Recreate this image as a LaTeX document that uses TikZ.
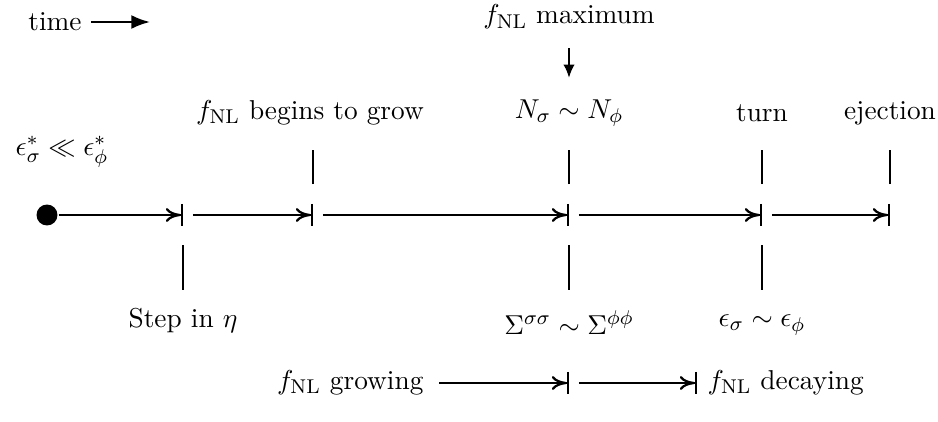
\documentclass[tikz,border=0pt]{standalone}
\usepackage{amsmath,amssymb}
\usetikzlibrary{arrows.meta,positioning}
\tikzset{
  stage/.style={-{To[length=6pt,width=5.6pt]Bar[width=9pt]}},
  dot/.style={circle,fill,inner sep=0pt,minimum size=8.4pt},
  lbl/.style={inner sep=1pt,font=\fontsize{10.95}{13.6}\selectfont},
}
\newcommand{\fNL}{f_{\mathrm{NL}}}

\begin{document}
\begin{tikzpicture}[x=0.01408cm,y=-0.01408cm,line width=0.9pt]
  \useasboundingbox (0,0) rectangle (938,421);

  % time direction
  \node[lbl] (time) at (55,22) {time};
  \coordinate (timeend) at (150,22);
  \draw[-{Latex[length=7.5pt,width=5.6pt]}] (time.east) ++(6,0) coordinate (timestart) -- (timeend);

  % ticks on the line
  \node[dot] (start) at (47,215) {};
  \coordinate (t1) at (183,215);
  \coordinate (t2) at (313,215);
  \coordinate (t3) at (569,215);
  \coordinate (t4) at (762,215);
  \coordinate (t5) at (890,215);

  \draw[stage] (start) -- (t1);
  \draw[stage,shorten <=4pt] (t1) -- (t2);
  \draw[stage,shorten <=4pt] (t2) -- (t3);
  \draw[stage,shorten <=4pt] (t3) -- (t4);
  \draw[stage,shorten <=4pt] (t4) -- (t5);

  % upper marks
  \foreach \t in {t2,t3,t4,t5}
    \draw (\t) ++(0,-31) -- ++(0,-34);
  % lower marks
  \foreach \t in {t1,t3,t4}
    \draw (\t) ++(0,30) -- ++(0,45);

  % labels above
  \node[lbl] (init) at (62,152) {$\epsilon_\sigma^* \ll \epsilon_\phi^*$};
  \node[lbl] (grow) at (310,113) {$\fNL$ begins to grow};
  \node[lbl] (equalN) at (569,113) {$N_\sigma \sim N_\phi$};
  \node[lbl] (turn) at (762,113) {turn};
  \node[lbl] (eject) at (890,113) {ejection};
  \node[lbl] (max) at (569,17) {$\fNL$ maximum};
  \coordinate (maxtip) at (569,78);
  \draw[-{Latex[length=5.4pt,width=4.6pt]}] (max) ++(0,31) -- (maxtip);

  % labels below
  \node[lbl] (step) at (183,321) {Step in $\eta$};
  \node[lbl] (equalS) at (569,323) {$\Sigma^{\sigma\sigma} \sim \Sigma^{\phi\phi}$};
  \node[lbl] (equale) at (762,325) {$\epsilon_\sigma \sim \epsilon_\phi$};

  % growing and decaying
  \node[lbl,anchor=east] (growing) at (427,383) {$\fNL$ growing};
  \coordinate (peak) at (569,383);
  \coordinate (decayend) at (697,383);
  \node[lbl,anchor=west] (decaying) at (704,383) {$\fNL$ decaying};
  \draw[stage] (growing.east) ++(12,0) -- (peak);
  \draw[stage,shorten <=4pt] (peak) -- (decayend);
\end{tikzpicture}
\end{document}
